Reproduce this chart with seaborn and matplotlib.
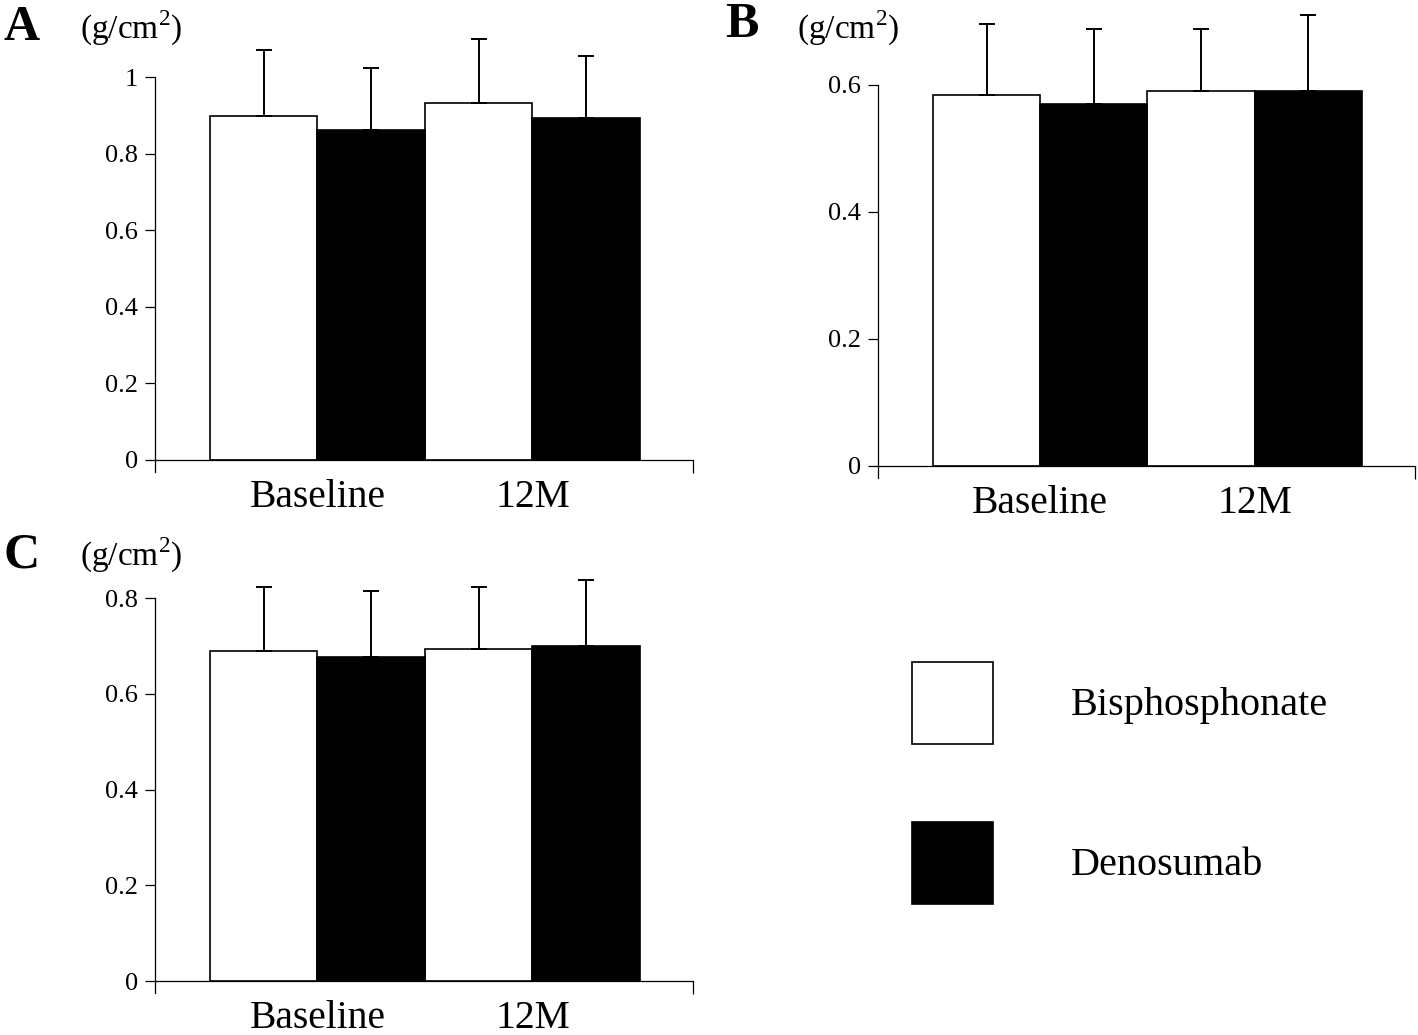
import pandas as pd
import numpy as np
import matplotlib
matplotlib.use("Agg")
import matplotlib.pyplot as plt
import seaborn as sns

## data (order: Baseline, 12M)
times = ["Baseline", "12M"]
groups = ["Bisphosphonate", "Denosumab"]

a_bp = [0.897, 0.932]
a_dm = [0.862, 0.893]
a_bp_sd = [0.173, 0.168]
a_dm_sd = [0.161, 0.162]

b_bp = [0.584, 0.591]
b_dm = [0.570, 0.591]
b_bp_sd = [0.112, 0.097]
b_dm_sd = [0.118, 0.119]

c_bp = [0.690, 0.694]
c_dm = [0.677, 0.700]
c_bp_sd = [0.133, 0.129]
c_dm_sd = [0.138, 0.138]

sns.set_style("ticks")
plt.rcParams['font.family'] = ['Liberation Serif', 'DejaVu Serif']
plt.rcParams['mathtext.fontset'] = 'custom'
plt.rcParams['mathtext.rm'] = 'Liberation Serif'
plt.rcParams['text.color'] = 'black'
plt.rcParams['axes.edgecolor'] = 'black'
plt.rcParams['xtick.color'] = 'black'
plt.rcParams['ytick.color'] = 'black'

fig = plt.figure(figsize=(14.18, 10.35), dpi=100)


def panel(rect, bp, dm, bp_sd, dm_sd, ymax, ybot, yticks, legend=False):
    ax = fig.add_axes(rect)
    df = pd.DataFrame({
        'time': times * 2,
        'group': [groups[0]] * 2 + [groups[1]] * 2,
        'value': bp + dm,
    })
    sns.barplot(data=df, x='time', y='value', hue='group', order=times,
                hue_order=groups, palette={groups[0]: 'white', groups[1]: 'black'},
                edgecolor='black', linewidth=1.2, width=1.0, gap=0,
                errorbar=None, legend=legend, ax=ax)
    # upper error bars only
    for cont, sd in zip(ax.containers, [bp_sd, dm_sd]):
        xs = [b.get_x() + b.get_width() / 2 for b in cont]
        ys = [b.get_height() for b in cont]
        ax.errorbar(xs, ys, yerr=[np.zeros(len(sd)), sd], fmt='none',
                    ecolor='black', elinewidth=1.4, capsize=6, capthick=1.4,
                    clip_on=False, zorder=1)
    ax.set_xlim(-0.756, 1.747)
    ax.set_ylim(ybot, ymax)
    ax.set_yticks(yticks)
    ax.set_yticklabels([f"{t:g}" for t in yticks])
    ax.set_xlabel("")
    ax.set_ylabel("")
    ax.spines['top'].set_visible(False)
    ax.spines['right'].set_visible(False)
    ax.spines['bottom'].set_position(('data', 0))
    for s in ['left', 'bottom']:
        ax.spines[s].set_linewidth(0.9)
    ax.tick_params(axis='y', length=7, width=0.9, pad=5, labelsize=19)
    ax.tick_params(axis='x', which='major', length=0, pad=14, labelsize=28.5)
    ax.set_xticks([1.747], minor=True)
    ax.tick_params(axis='x', which='minor', length=9, width=0.9, direction='out')
    return ax


axA = panel([0.1093, 0.5440, 0.3794, 0.3816], a_bp, a_dm, a_bp_sd, a_dm_sd,
            1.0, -0.032, [0, 0.2, 0.4, 0.6, 0.8, 1.0], legend=True)
axB = panel([0.6192, 0.5382, 0.3787, 0.3797], b_bp, b_dm, b_bp_sd, b_dm_sd,
            0.6, -0.019, [0, 0.2, 0.4, 0.6])
axC = panel([0.1093, 0.0406, 0.3794, 0.3816], c_bp, c_dm, c_bp_sd, c_dm_sd,
            0.8, -0.025, [0, 0.2, 0.4, 0.6, 0.8])

handles, labels = axA.get_legend_handles_labels()
axA.get_legend().remove()
fig.legend(handles, labels, loc='upper left', bbox_to_anchor=(0.6432, 0.3604),
           frameon=False, fontsize=29, handlelength=2.0, handleheight=2.75,
           handletextpad=1.95, labelspacing=1.95, borderpad=0, borderaxespad=0)

# panel letters and units
for x, y, s in [(3, 28, 'A'), (725, 25, 'B'), (3, 555, 'C')]:
    fig.text(x / 1418, 1 - y / 1035, s, fontsize=36, fontweight='bold',
             va='center', ha='left')
for x, y in [(80, 28), (797, 28), (80, 555)]:
    fig.text(x / 1418, 1 - y / 1035, r"(g/cm$^{\mathrm{2}}$)", fontsize=24,
             va='center', ha='left')

plt.savefig('out.png', dpi=100)
